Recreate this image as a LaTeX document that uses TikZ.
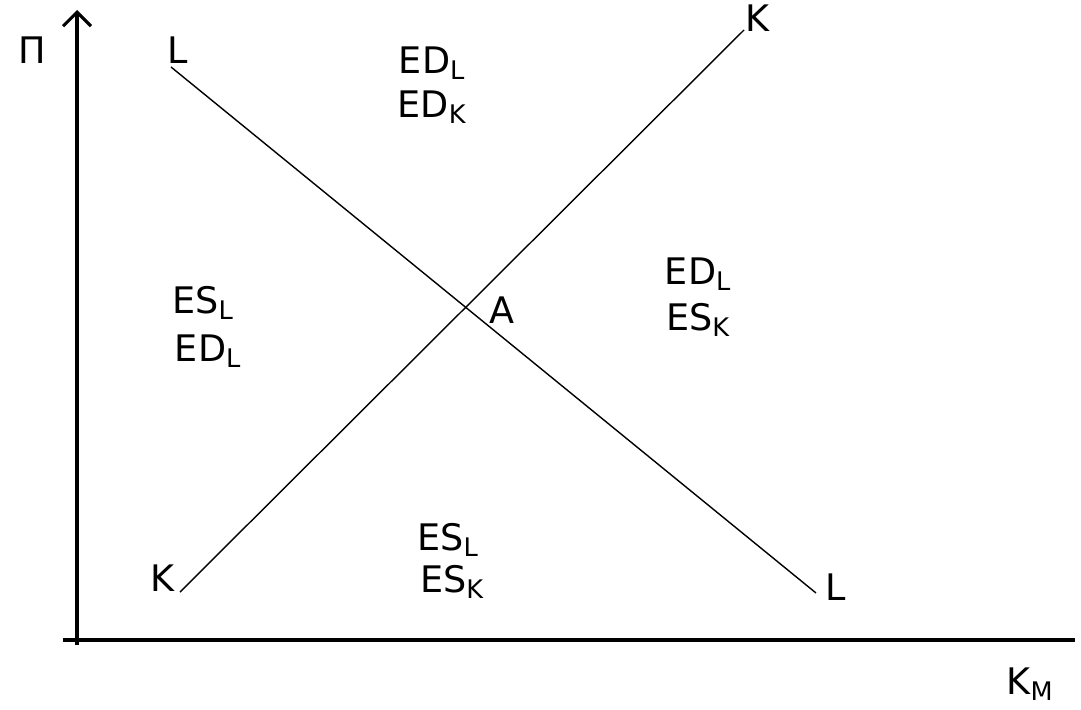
\documentclass[tikz,border=0pt]{standalone}
\usepackage{fontspec}
\setmainfont{DejaVu Sans}
\usetikzlibrary{
  arrows.meta,
  positioning
}

\begin{document}
\begin{tikzpicture}[x=0.025cm, y=-0.025cm,
    axis/.style={line width=2.2pt},
    curve/.style={line width=1pt},
    lbl/.style={font=\fontsize{26}{30}\selectfont, inner sep=1pt}
]
\useasboundingbox (0,0) rectangle (1081,710);
\def\xO{77}   \def\yO{640}

% axes
\coordinate (ybot) at (\xO,645);
\coordinate (ytop) at (\xO,10);
\coordinate (xbeg) at (63,\yO);
\coordinate (xend) at (1075,\yO);
\draw[axis, -{Straight Barb[length=3.5mm, width=7mm]}] (ybot) -- (ytop);
\draw[axis] (xbeg) -- (xend);

\node[lbl] (pi) at (32,50) {Π};
\node[lbl] (km) at (1030,684) {K\textsubscript{M}};

% the two schedules
\coordinate (L1) at (171,67);
\coordinate (L2) at (816,593);
\coordinate (K1) at (180,592);
\coordinate (K2) at (744,30);
\draw[curve] (L1) -- (L2);
\draw[curve] (K1) -- (K2);

\node[lbl] (Ltop) at (178,50) {L};
\node[lbl] (Lbot) at (836,587) {L};
\node[lbl] (Ktop) at (757,18) {K};
\node[lbl] (Kbot) at (162,578) {K};
\node[lbl] (A) at (502,310) {A};

% regions
\node[lbl] (nL) at (432,63) {ED\textsubscript{L}};
\node[lbl] (nK) at (432,107) {ED\textsubscript{K}};
\node[lbl] (wL) at (203,303) {ES\textsubscript{L}};
\node[lbl] (wK) at (208,351) {ED\textsubscript{L}};
\node[lbl] (eL) at (698,274) {ED\textsubscript{L}};
\node[lbl] (eK) at (698,320) {ES\textsubscript{K}};
\node[lbl] (sL) at (448,540) {ES\textsubscript{L}};
\node[lbl] (sK) at (452,582) {ES\textsubscript{K}};

\end{tikzpicture}
\end{document}
